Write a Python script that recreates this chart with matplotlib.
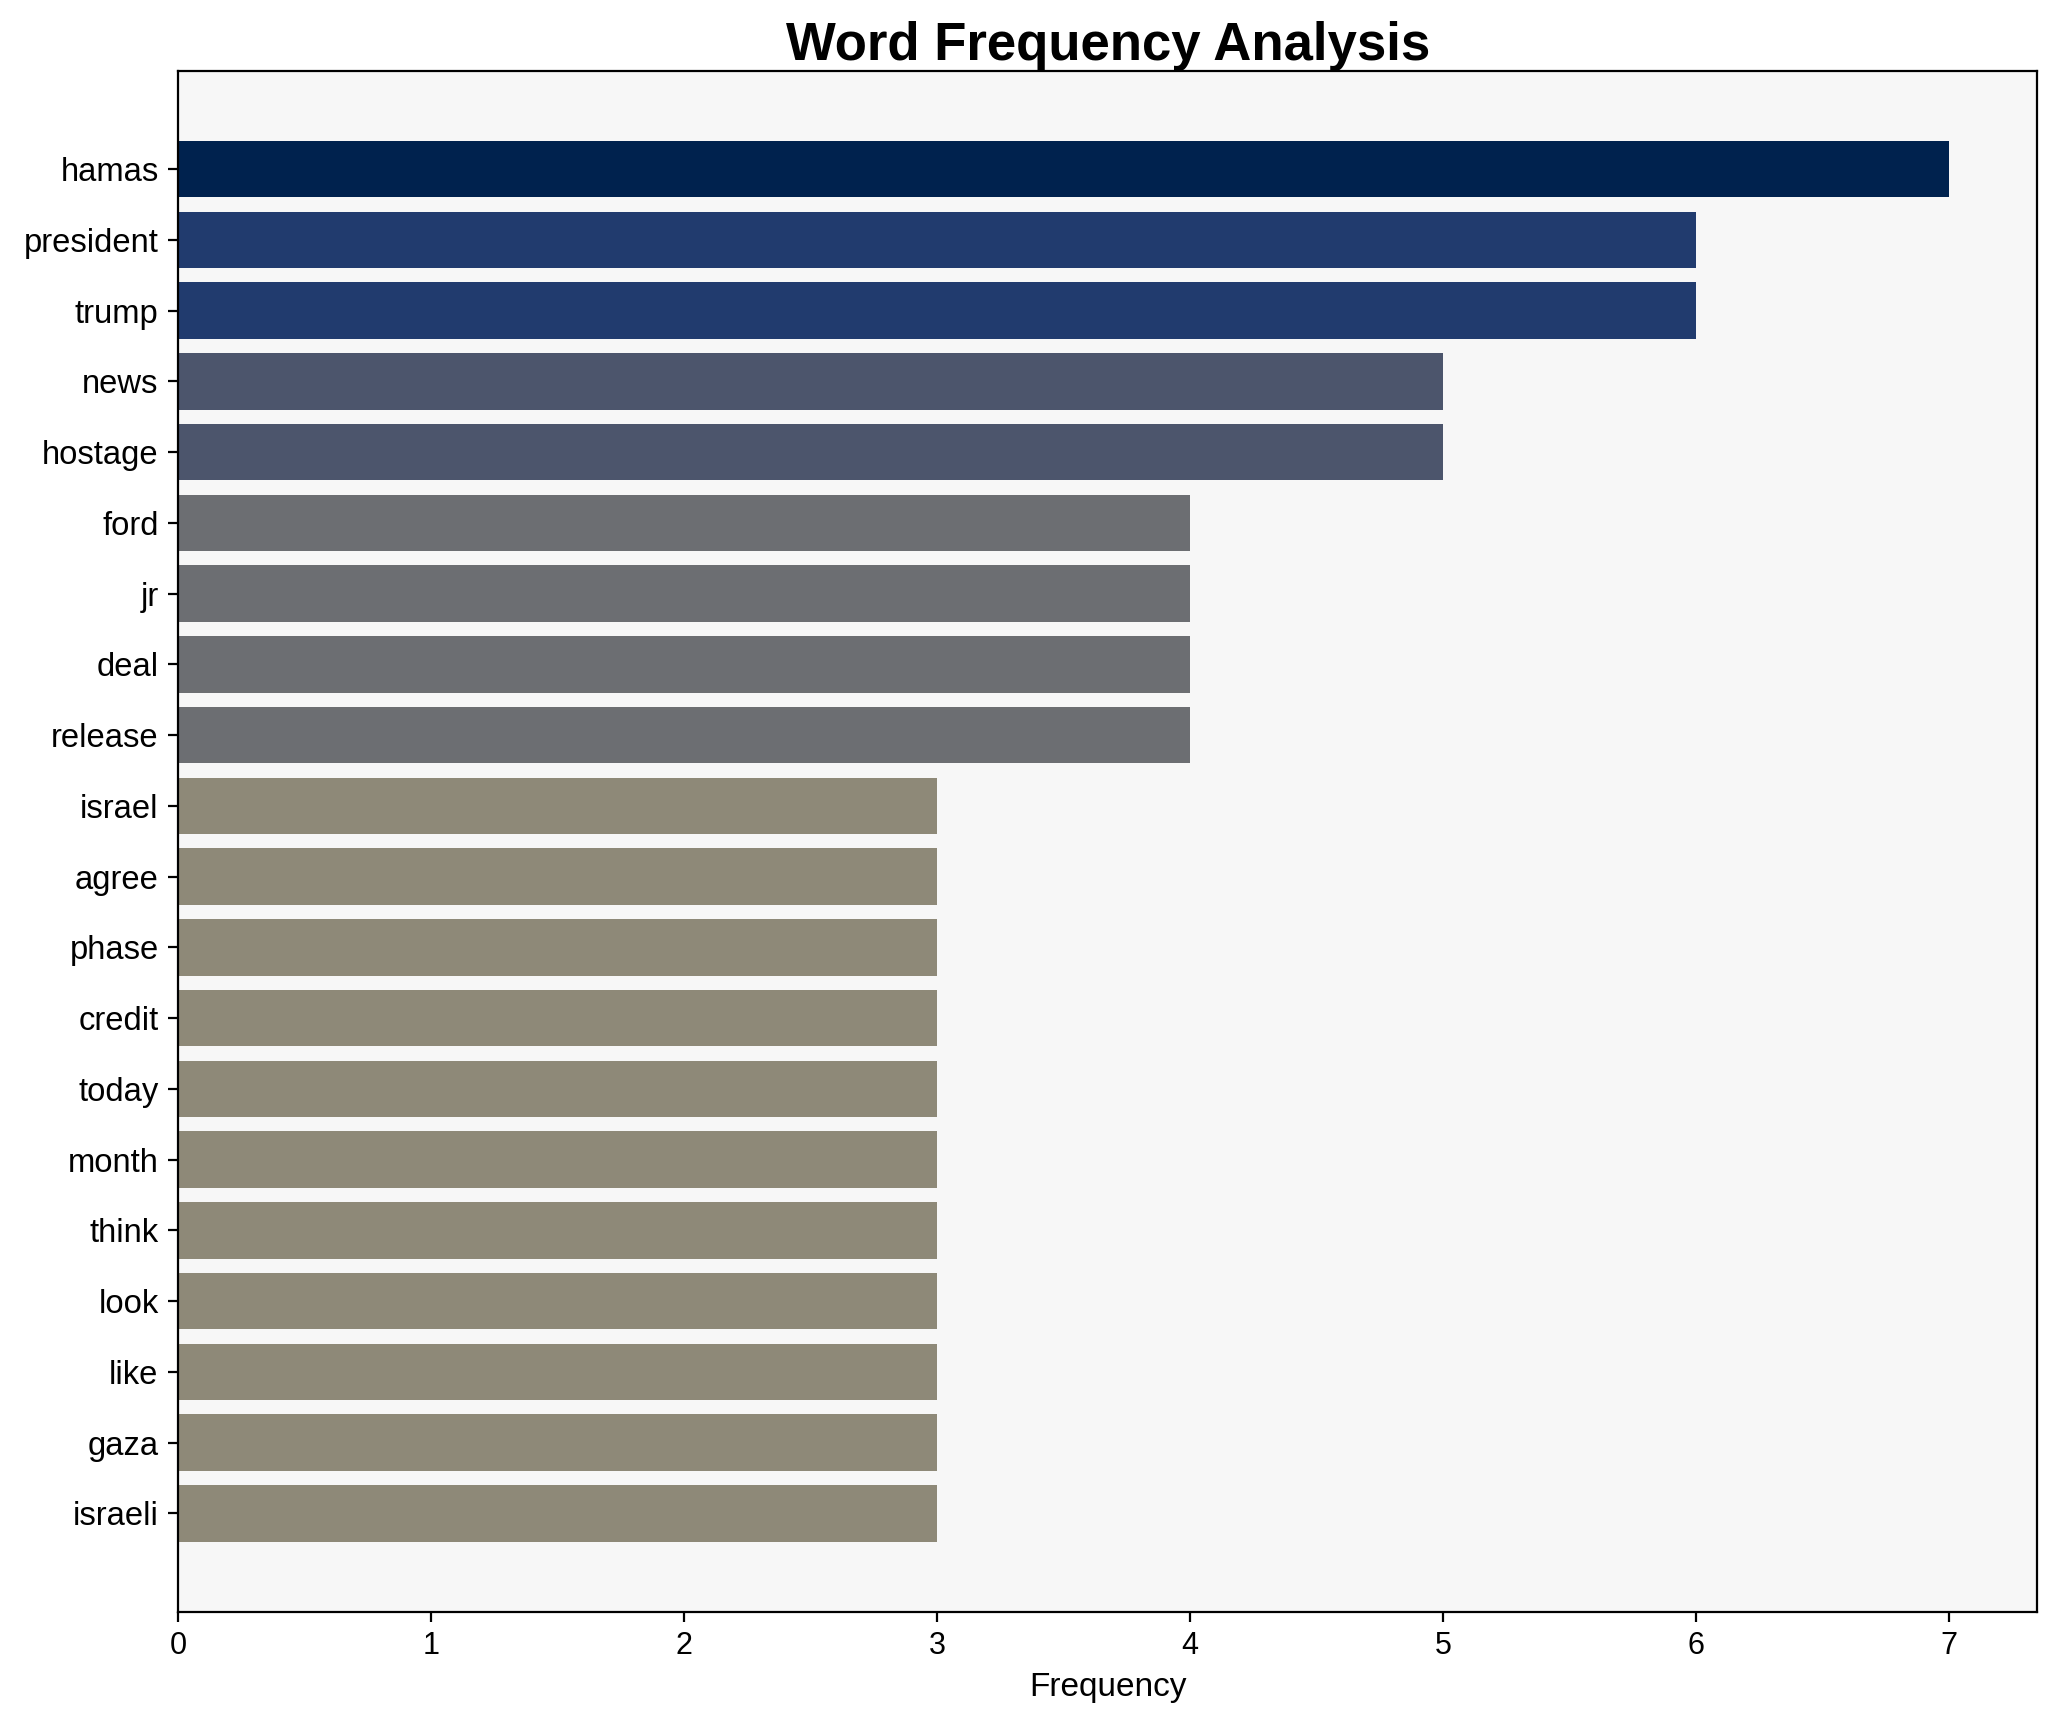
import numpy as np
import matplotlib
matplotlib.use("Agg")
import matplotlib.pyplot as plt

words = ["hamas", "president", "trump", "news", "hostage", "ford", "jr", "deal",
         "release", "israel", "agree", "phase", "credit", "today", "month",
         "think", "look", "like", "gaza", "israeli"]
counts = [7, 6, 6, 5, 5, 4, 4, 4, 4, 3, 3, 3, 3, 3, 3, 3, 3, 3, 3, 3]

plt.rcParams["font.family"] = ["Liberation Sans", "DejaVu Sans"]

vals = np.array(counts, dtype=float)
colors = plt.cm.cividis_r(vals / vals.max())

fig, ax = plt.subplots(figsize=(10.28, 8.61), dpi=200)
ax.set_facecolor("#f7f7f7")
y = np.arange(len(words))
ax.barh(y, vals, color=colors, height=0.8)
ax.set_yticks(y)
ax.set_yticklabels(words, fontsize=11.8)
ax.invert_yaxis()
ax.tick_params(axis="x", labelsize=11)
ax.set_xlabel("Frequency", fontsize=12)
ax.set_title("Word Frequency Analysis", fontsize=19, fontweight="bold", pad=4)
fig.subplots_adjust(left=0.0866, right=0.991, top=0.9589, bottom=0.064)
fig.savefig("out.png", dpi=200)
